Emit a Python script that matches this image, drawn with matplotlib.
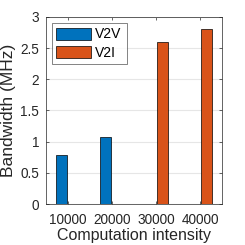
import numpy as np
import matplotlib
matplotlib.use('Agg')
import matplotlib.pyplot as plt

plt.rcParams['font.family'] = ['Liberation Sans', 'DejaVu Sans']

intensity = ['10000', '20000', '30000', '40000']
v2v = [0.78, 1.07, 0, 0]
v2i = [0, 0, 2.6, 2.8]

fig = plt.figure(figsize=(2.45, 2.45), dpi=100)
ax = fig.add_axes([46 / 245, 41 / 245, 176 / 245, 187 / 245])

x = np.arange(1, len(intensity) + 1)
w = 0.24
off = 0.15
ax.bar(x - off, v2v, w, color='#0072BD', edgecolor='black', linewidth=0.5, label='V2V', zorder=3)
ax.bar(x + off, v2i, w, color='#D95319', edgecolor='black', linewidth=0.5, label='V2I', zorder=3)

ax.set_xlim(0.5, 4.5)
ax.set_ylim(0, 3)
ax.set_xticks(x)
ax.set_xticklabels(intensity)
ax.set_yticks([0, 0.5, 1, 1.5, 2, 2.5, 3])
ax.set_yticklabels(['0', '0.5', '1', '1.5', '2', '2.5', '3'])
ax.yaxis.grid(True, color='#e6e6e6', linewidth=0.8, zorder=0)
ax.tick_params(direction='in', length=2.5, width=0.5, top=True, right=True,
               labelsize=9.8, colors='#262626')
ax.tick_params(axis='x', pad=6.5)
ax.tick_params(axis='y', pad=5)
for s in ax.spines.values():
    s.set_linewidth(0.5)
    s.set_color('#262626')

ax.set_xlabel('Computation intensity', fontsize=11.5, color='#262626', labelpad=0.5)
ax.set_ylabel('Bandwidth (MHz)', fontsize=12.5, color='#262626', labelpad=3)

leg = ax.legend(loc='upper left', fontsize=10, frameon=True, fancybox=False,
                edgecolor='#262626', handlelength=2.5, handleheight=0.95,
                borderpad=0.35, labelspacing=0.3, handletextpad=0.3,
                borderaxespad=0.4)
leg.get_frame().set_linewidth(0.5)

fig.savefig('out.png', dpi=100)
